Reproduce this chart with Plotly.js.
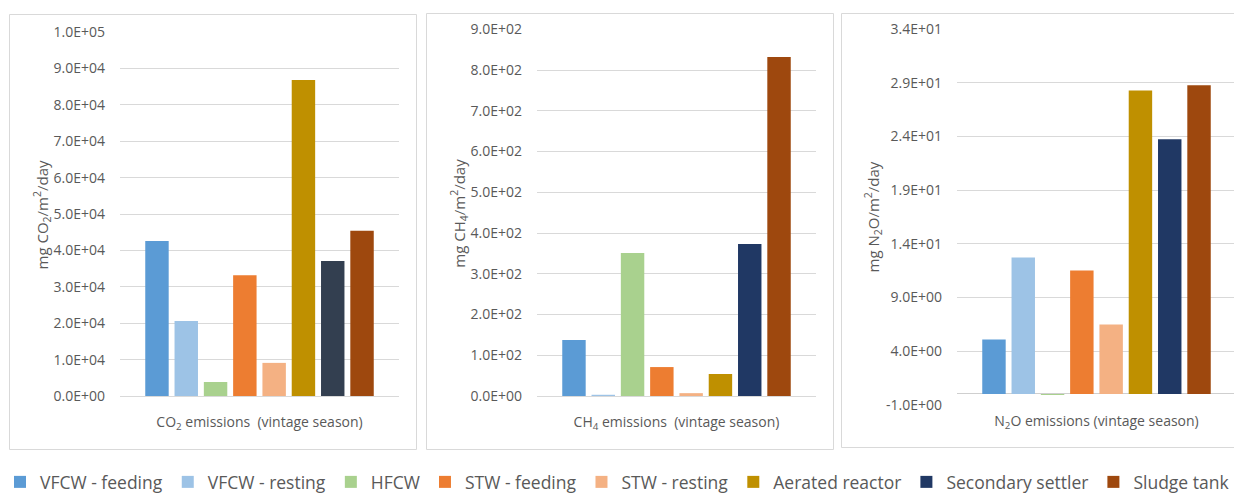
<!DOCTYPE html>
<html>
<head>
<meta charset="utf-8">
<script src="https://cdn.plot.ly/plotly-3.0.1.min.js"></script>
<style>
html, body { margin: 0; padding: 0; background: #ffffff; }
#wrap { width: 1234px; height: 496px; overflow: hidden; position: relative; }
#chart { width: 1300px; height: 496px; position: absolute; left: 0; top: 0; }
</style>
</head>
<body>
<div id="wrap"><div id="chart"></div></div>
<script>
// ---- data ----
const series = ['VFCW - feeding', 'VFCW - resting', 'HFCW', 'STW - feeding', 'STW - resting', 'Aerated reactor', 'Secondary settler', 'Sludge tank'];
const co2Values = [42600, 20600, 3850, 33200, 9100, 86800, 37100, 45400];
const ch4Values = [137.5, 3, 351, 71, 7, 54, 373, 832];
const n2oValues = [5.08, 12.73, -0.1, 11.52, 6.48, 28.3, 23.74, 28.78];

const co2Category = ['CO<sub>2</sub> emissions  (vintage season)'];
const ch4Category = ['CH<sub>4</sub> emissions  (vintage season)'];
const n2oCategory = ['N<sub>2</sub>O emissions (vintage season)'];

const co2TickVals = [0, 10000, 20000, 30000, 40000, 50000, 60000, 70000, 80000, 90000, 100000];
const co2TickText = ['0.0E+00', '1.0E+04', '2.0E+04', '3.0E+04', '4.0E+04', '5.0E+04', '6.0E+04', '7.0E+04', '8.0E+04', '9.0E+04', '1.0E+05'];
const ch4TickVals = [0, 100, 200, 300, 400, 500, 600, 700, 800, 900];
const ch4TickText = ['0.0E+00', '1.0E+02', '2.0E+02', '3.0E+02', '4.0E+02', '5.0E+02', '6.0E+02', '7.0E+02', '8.0E+02', '9.0E+02'];
const n2oTickVals = [-1, 4, 9, 14, 19, 24, 29, 34];
const n2oTickText = ['-1.0E+00', '4.0E+00', '9.0E+00', '1.4E+01', '1.9E+01', '2.4E+01', '2.9E+01', '3.4E+01'];

const co2Title = 'mg CO<sub>2</sub>/m<sup>2</sup>/day';
const ch4Title = 'mg CH<sub>4</sub>/m<sup>2</sup>/day';
const n2oTitle = 'mg N<sub>2</sub>O/m<sup>2</sup>/day';

// ---- styles ----
const colors = ['#5B9BD5', '#9DC3E6', '#A9D18E', '#ED7D31', '#F4B183', '#BF9000', '#203864', '#9E480E'];
const co2Colors = ['#5B9BD5', '#9DC3E6', '#A9D18E', '#ED7D31', '#F4B183', '#BF9000', '#333F50', '#9E480E'];

const W = 1300, H = 496;
const px = v => v / W;
const py = v => 1 - v / H;
const FONT = 'Open Sans, Lato, Liberation Sans, sans-serif';
const TXT = '#595959';
const GRID = '#d9d9d9';

const panels = [
  {vals: co2Values, cat: co2Category, cols: co2Colors, tv: co2TickVals, tt: co2TickText, range: [0, 100000], xstand: 16,
   x: [120, 399], y: [32, 396], xa: 'x', ya: 'y', legend: false, title: co2Title, tx: 42, ty: 215.5, box: [9.5, 14.5, 416.5, 449.5]},
  {vals: ch4Values, cat: ch4Category, cols: colors, tv: ch4TickVals, tt: ch4TickText, range: [0, 900], xstand: 16,
   x: [537, 816], y: [29.3, 396], xa: 'x2', ya: 'y2', legend: true, title: ch4Title, tx: 459, ty: 213.7, box: [426.5, 13.5, 833.5, 449.5]},
  {vals: n2oValues, cat: n2oCategory, cols: colors, tv: n2oTickVals, tt: n2oTickText, range: [-1, 34], xstand: 6,
   x: [957, 1236], y: [29.3, 404.7], xa: 'x3', ya: 'y3', legend: false, title: n2oTitle, tx: 873, ty: 217.5, box: [841.5, 13.5, 1262, 447.5]}
];

const traces = [];
const layout = {
  width: W, height: H,
  margin: {l: 0, r: 0, t: 0, b: 0, autoexpand: false},
  paper_bgcolor: '#ffffff', plot_bgcolor: '#ffffff',
  barmode: 'group', bargap: 0.16, bargroupgap: 0.2,
  font: {family: FONT, color: TXT, size: 14},
  showlegend: true,
  legend: {orientation: 'h', x: px(0), xanchor: 'left', y: py(464), yanchor: 'top',
           font: {family: FONT, size: 17.5, color: TXT}, bgcolor: 'rgba(0,0,0,0)', traceorder: 'normal'},
  shapes: [], annotations: []
};

panels.forEach((p, pi) => {
  series.forEach((name, i) => {
    traces.push({
      type: 'bar', name: name, x: [p.cat[0]], y: [p.vals[i]],
      xaxis: p.xa, yaxis: p.ya, marker: {color: p.cols[i], line: {width: 0}},
      showlegend: p.legend, hoverinfo: 'name+y'
    });
  });
  const sfx = pi === 0 ? '' : String(pi + 1);
  layout['xaxis' + sfx] = {
    domain: [px(p.x[0]), px(p.x[1])], anchor: 'y' + sfx,
    type: 'category', showgrid: false, zeroline: false, showline: false, ticks: '',
    tickfont: {family: FONT, size: 14, color: TXT}, ticklabelstandoff: p.xstand, fixedrange: true, automargin: false
  };
  layout['yaxis' + sfx] = {
    domain: [py(p.y[1]), py(p.y[0])], anchor: 'x' + sfx,
    range: p.range, tickmode: 'array', tickvals: p.tv, ticktext: p.tt,
    showgrid: true, gridcolor: GRID, gridwidth: 1,
    zeroline: true, zerolinecolor: pi === 2 ? '#cfcfcf' : GRID, zerolinewidth: 1,
    showline: false, ticks: '', ticklabelstandoff: 14, automargin: false,
    tickfont: {family: FONT, size: 14, color: TXT}, fixedrange: true
  };
  layout.shapes.push({type: 'rect', xref: 'paper', yref: 'paper',
    x0: px(p.box[0]), x1: px(p.box[2]), y0: py(p.box[3]), y1: py(p.box[1]),
    line: {color: GRID, width: 1}, fillcolor: 'rgba(0,0,0,0)', layer: 'below'});
  layout.annotations.push({xref: 'paper', yref: 'paper', x: px(p.tx), y: py(p.ty),
    xanchor: 'center', yanchor: 'middle', textangle: -90, showarrow: false,
    text: p.title, font: {family: FONT, size: 15, color: TXT}});
});

Plotly.newPlot('chart', traces, layout, {displayModeBar: false, staticPlot: true});
</script>
</body>
</html>
